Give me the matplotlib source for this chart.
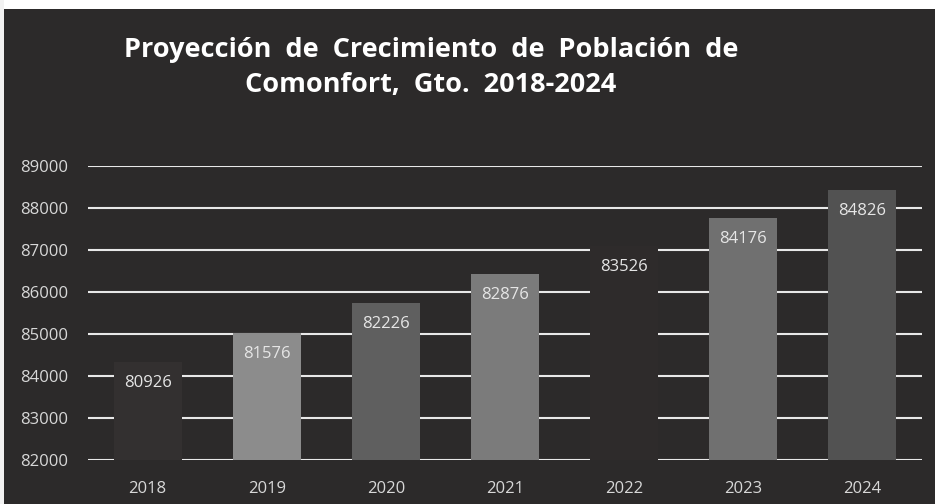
import matplotlib.pyplot as plt
from matplotlib.patches import Rectangle
import numpy as np

years = ["2018", "2019", "2020", "2021", "2022", "2023", "2024"]
bar_heights = [84320, 85020, 85730, 86420, 87090, 87760, 88420]
bar_labels = ["80926", "81576", "82226", "82876", "83526", "84176", "84826"]
bar_colors = ["#333030", "#8c8c8c", "#5f5f5f", "#7b7b7b", "#2e2b2b", "#707070", "#525252"]
yticks = [82000, 83000, 84000, 85000, 86000, 87000, 88000, 89000]

bg = "#2c2a2a"

fig = plt.figure(figsize=(9.35, 5.04), dpi=100, facecolor=bg)
# white strips at top and left edge of the scanned picture
fig.patches.append(Rectangle((0, 1 - 9 / 504), 1, 9 / 504, transform=fig.transFigure,
                             facecolor="white", edgecolor="none", zorder=-5))
fig.patches.append(Rectangle((0, 0), 4 / 935, 1, transform=fig.transFigure,
                             facecolor="#f2f2f2", edgecolor="none", zorder=-5))

ax = fig.add_axes([88 / 935, 1 - 460 / 504, (922 - 88) / 935, (460 - 165.7) / 504])
ax.set_facecolor("none")

x = np.arange(len(years))
bars = ax.bar(x, bar_heights, width=0.57, color=bar_colors, zorder=3)

for xi, h, lab in zip(x, bar_heights, bar_labels):
    ax.text(xi, h - 500, lab, ha="center", va="center", color="#e6e6e6",
            fontsize=12, family="Open Sans", zorder=4)

ax.set_ylim(82000, 89000)
ax.set_xlim(-0.5, len(years) - 0.5)
ax.set_yticks(yticks)
ax.set_yticklabels([str(t) for t in yticks])
ax.set_xticks(x)
ax.set_xticklabels(years)
ax.yaxis.grid(True, color="#e8e8e8", linewidth=1.5, zorder=0)
ax.set_axisbelow(True)
for s in ax.spines.values():
    s.set_visible(False)
ax.tick_params(length=0, colors="#d8d8d8", labelsize=12)
ax.tick_params(axis="y", pad=14.5)
ax.tick_params(axis="x", pad=15)
for t in ax.get_xticklabels() + ax.get_yticklabels():
    t.set_family("Open Sans")

fig.text(431 / 935, 1 - 57 / 504, "Proyección  de  Crecimiento  de  Población  de",
         ha="center", va="baseline", color="white", fontsize=19.5, fontweight="bold",
         family="Open Sans")
fig.text(431 / 935, 1 - 92 / 504, "Comonfort,  Gto.  2018-2024",
         ha="center", va="baseline", color="white", fontsize=19.5, fontweight="bold",
         family="Open Sans")

fig.savefig("out.png", dpi=100, facecolor=fig.get_facecolor())
